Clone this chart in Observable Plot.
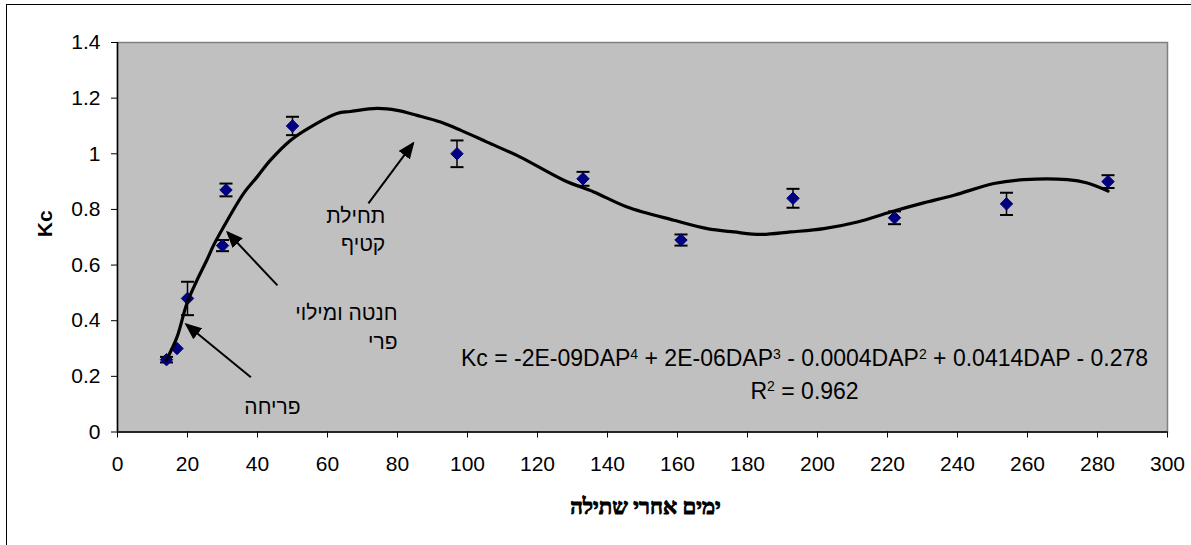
<!DOCTYPE html>
<html>
<head>
<meta charset="utf-8">
<script src="https://cdn.jsdelivr.net/npm/d3@7"></script>
<script src="https://cdn.jsdelivr.net/npm/@observablehq/plot@0.6"></script>
<style>
  html, body { margin: 0; padding: 0; background: #fff; }
  #wrap { position: relative; width: 1191px; height: 545px; overflow: hidden; background: #fff; }
  #border { position: absolute; left: 6px; top: 4px; width: 1300px; height: 700px;
            border-left: 1px solid #000; border-top: 1px solid #000; pointer-events: none; }
</style>
</head>
<body>
<div id="wrap"><div id="border"></div></div>
<script>
// ---- data ----
const dap   = [14, 17, 20, 30, 31, 50, 97, 133, 161, 193, 222, 254, 283];
const kc    = [0.26, 0.30, 0.48, 0.67, 0.87, 1.10, 1.00, 0.91, 0.69, 0.84, 0.77, 0.82, 0.90];
const kcErr = [0.01, 0, 0.06, 0.02, 0.023, 0.033, 0.048, 0.025, 0.02, 0.034, 0.023, 0.04, 0.023];

const trendDap = [13.9, 17.0, 19.8, 22.5, 25.6, 27.4, 30.3, 36.0, 39.9, 43.7, 49.4, 55.1, 62.7, 66.5, 74.2, 79.9, 85.6, 92.3, 98.0, 105.6, 115.1, 127.5, 136.1, 145.6, 159.0, 168.5, 176.1, 183.7, 192.3, 201.8, 211.4, 220.9, 229.5, 239.0, 250.4, 259.0, 271.4, 277.1, 283.0];
const trendKc  = [0.257, 0.341, 0.461, 0.54, 0.62, 0.67, 0.737, 0.857, 0.917, 0.977, 1.048, 1.096, 1.145, 1.152, 1.163, 1.156, 1.138, 1.114, 1.085, 1.042, 0.988, 0.905, 0.863, 0.809, 0.761, 0.731, 0.719, 0.710, 0.719, 0.731, 0.755, 0.791, 0.821, 0.851, 0.893, 0.907, 0.907, 0.895, 0.866];

const xTicks = [0, 20, 40, 60, 80, 100, 120, 140, 160, 180, 200, 220, 240, 260, 280, 300];
const yTicks = [0, 0.2, 0.4, 0.6, 0.8, 1, 1.2, 1.4];
const yTickLabels = ["0", "0.2", "0.4", "0.6", "0.8", "1", "1.2", "1.4"];

// annotations (stage labels) in data units
const stageText  = ["פריחה", "חנטה ומילוי", "פרי", "תחילת", "קטיף"];
const stageTextX = [52.3, 80.0, 80.0, 76.5, 76.5];
const stageTextY = [0.063, 0.401, 0.300, 0.750, 0.649];
const arrowX1 = [38.1, 45.7, 71.7];
const arrowY1 = [0.197, 0.527, 0.822];
const arrowX2 = [19.6, 31.4, 84.5];
const arrowY2 = [0.387, 0.718, 1.038];

const eqLines = ["Kc = -2E-09DAP^4 + 2E-06DAP^3 - 0.0004DAP^2 + 0.0414DAP - 0.278", "R^2 = 0.962"];
const eqX = [196.3, 196.3];
const eqY = [0.2356, 0.1194];

const yTitle = "Kc";
const xTitle = "ימים אחרי שתילה";

// ---- tables built from the arrays ----
const points = dap.map((d, i) => ({dap: d, kc: kc[i], err: kcErr[i]}));
const errRows = points.filter(p => p.err > 0).map(p => ({dap: p.dap, lo: p.kc - p.err, hi: p.kc + p.err}));
const capRows = errRows.flatMap(r => [{dap: r.dap, v: r.lo}, {dap: r.dap, v: r.hi}]);
const trend = trendDap.map((d, i) => ({dap: d, kc: trendKc[i]}));
const labels = stageText.map((t, i) => ({t, x: stageTextX[i], y: stageTextY[i]}));
const arrows = arrowX1.map((x1, i) => ({x1, y1: arrowY1[i], x2: arrowX2[i], y2: arrowY2[i]}));
const eqRows = eqLines.map((t, i) => ({t, x: eqX[i], y: eqY[i]}));

const SANS = "'Liberation Sans', Arial, Helvetica, sans-serif";
const SERIF = "'Liberation Serif', 'Times New Roman', 'DejaVu Serif', serif";

const capSymbol = {
  draw(context, size) {
    const w = Math.sqrt(size / Math.PI);
    context.moveTo(-w, 0);
    context.lineTo(w, 0);
  }
};

function filledHead(color, context) {
  const doc = (context && context.document) || document;
  const ns = "http://www.w3.org/2000/svg";
  const m = doc.createElementNS(ns, "marker");
  m.setAttribute("viewBox", "-17 -7 17 14");
  m.setAttribute("markerWidth", 17);
  m.setAttribute("markerHeight", 14);
  m.setAttribute("markerUnits", "userSpaceOnUse");
  m.setAttribute("orient", "auto");
  m.setAttribute("refX", -2);
  m.setAttribute("refY", 0);
  const p = doc.createElementNS(ns, "path");
  p.setAttribute("d", "M-17,-7L0,0L-17,7Z");
  p.setAttribute("fill", color);
  p.setAttribute("stroke", "none");
  m.appendChild(p);
  return m;
}

function build(useMarker) {
  const arrowMark = useMarker
    ? Plot.link(arrows, {x1: "x1", y1: "y1", x2: "x2", y2: "y2", stroke: "#000", strokeWidth: 2, markerEnd: filledHead})
    : Plot.arrow(arrows, {x1: "x1", y1: "y1", x2: "x2", y2: "y2", stroke: "#000", strokeWidth: 2, headLength: 14});
  return Plot.plot({
    width: 1191,
    height: 545,
    marginLeft: 117,
    marginRight: 24,
    marginTop: 42,
    marginBottom: 113.5,
    x: {domain: [0, 300]},
    y: {domain: [0, 1.4]},
    style: {fontFamily: SANS, fontSize: "21px", color: "#000", background: "white", overflow: "visible"},
    marks: [
      Plot.frame({fill: "#C0C0C0", stroke: "#808080", strokeWidth: 1.5}),
      Plot.axisX({ticks: xTicks, tickSize: 6, tickPadding: 18, label: null, fontSize: 21, tickFormat: d => String(d), stroke: "#000"}),
      Plot.axisY({ticks: yTicks, tickSize: 6, tickPadding: 11, label: null, fontSize: 21,
                  tickFormat: d => yTickLabels[yTicks.indexOf(d)], stroke: "#000"}),
      Plot.ruleX([0], {stroke: "#000", strokeWidth: 1.5}),
      Plot.ruleY([0], {stroke: "#000", strokeWidth: 1.5}),
      Plot.ruleX(errRows, {x: "dap", y1: "lo", y2: "hi", stroke: "#000", strokeWidth: 1.5}),
      Plot.dot(capRows, {x: "dap", y: "v", symbol: capSymbol, r: 6.5, stroke: "#000", strokeWidth: 2}),
      Plot.dot(points, {x: "dap", y: "kc", symbol: "diamond2", r: 5.6, fill: "#000080", stroke: "#000080", strokeWidth: 1}),
      Plot.line(trend, {x: "dap", y: "kc", stroke: "#000", strokeWidth: 3.2, curve: "catmull-rom"}),
      arrowMark,
      Plot.text(labels, {x: "x", y: "y", text: "t", textAnchor: "end", lineAnchor: "bottom", fontSize: 21, fontFamily: SANS, fill: "#000"}),
      Plot.text(eqRows, {x: "x", y: "y", text: "t", textAnchor: "middle", lineAnchor: "bottom", fontSize: 23, fontFamily: SANS, fill: "#000"}),
      Plot.text([yTitle], {frameAnchor: "left", rotate: -90, dx: -72, fontWeight: "bold", fontSize: 21, fontFamily: SANS, fill: "#000"}),
      Plot.text([xTitle], {frameAnchor: "bottom", dx: 3, dy: 81.5, lineAnchor: "bottom", fontWeight: "bold", fontSize: 22,
                           fontFamily: SERIF, fill: "#000", stroke: "#000", strokeWidth: 0.9})
    ]
  });
}

let chart;
try { chart = build(true); } catch (e) { chart = build(false); }

// superscripts in the trendline equation
const NS = "http://www.w3.org/2000/svg";
chart.querySelectorAll("text").forEach(el => {
  if (el.children.length === 0 && el.textContent.includes("^")) {
    const parts = el.textContent.split(/\^(\d)/);
    el.textContent = "";
    let raised = false;
    parts.forEach((p, i) => {
      if (p === "") return;
      const ts = document.createElementNS(NS, "tspan");
      ts.textContent = p;
      if (i % 2 === 1) { ts.setAttribute("font-size", "14"); ts.setAttribute("dy", "-7.5"); raised = true; }
      else if (raised) { ts.setAttribute("dy", "7.5"); raised = false; }
      el.appendChild(ts);
    });
  }
});

document.getElementById("wrap").prepend(chart);
</script>
</body>
</html>
